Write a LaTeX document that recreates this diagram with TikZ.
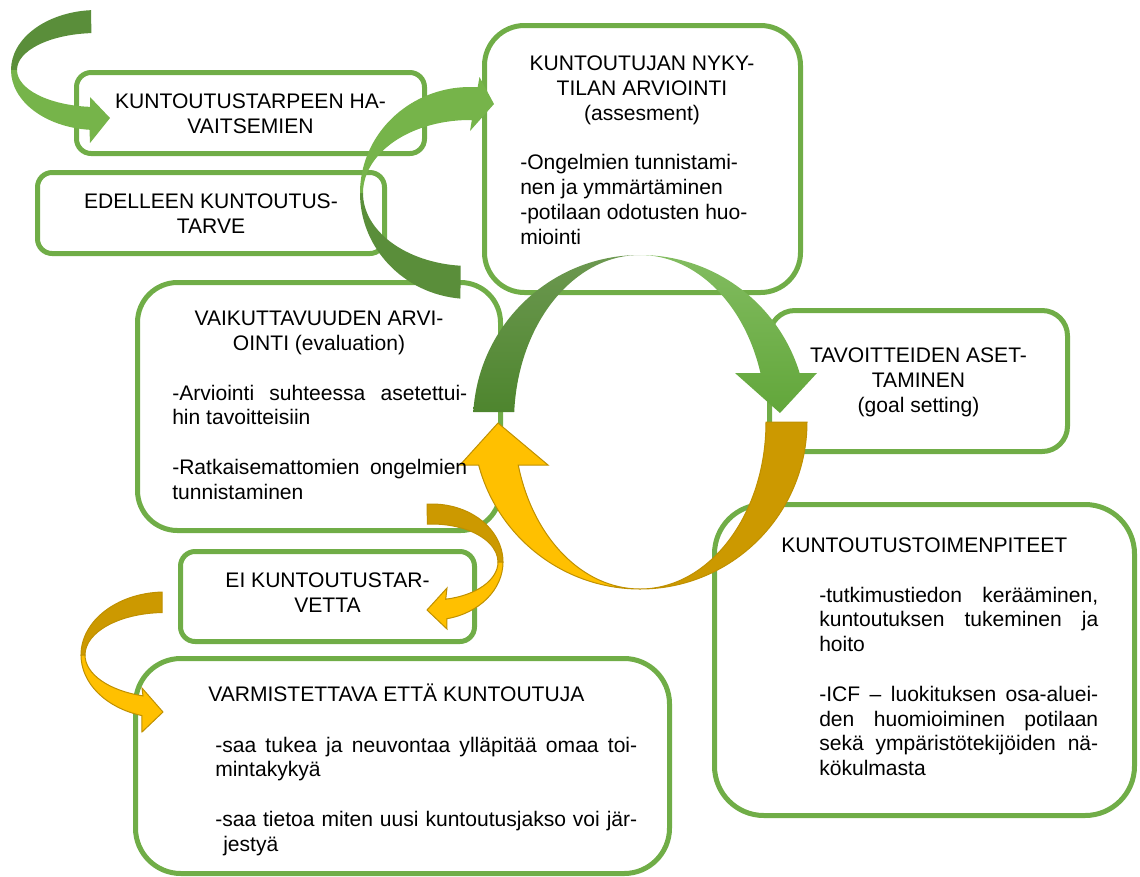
\documentclass[tikz,border=0pt]{standalone}
\usepackage{fontspec}
\setmainfont{Liberation Sans}
\definecolor{boxgreen}{RGB}{112,173,71}
\definecolor{grback}{RGB}{90,142,58}
\definecolor{grfront}{RGB}{118,180,74}
\definecolor{grbackhi}{RGB}{108,152,80}
\definecolor{grbacklo}{RGB}{76,132,44}
\definecolor{grfronthi}{RGB}{130,188,96}
\definecolor{grfrontlo}{RGB}{96,165,56}
\definecolor{ochre}{RGB}{204,153,0}
\definecolor{gold}{RGB}{255,192,0}
\definecolor{goldline}{RGB}{191,144,0}
\newcommand{\boxfont}{\fontsize{15.8pt}{18.6pt}\selectfont}
\tolerance=10000
\hyphenpenalty=10000
\exhyphenpenalty=10000
\tikzset{
  box/.style={draw=boxgreen, line width=3.75pt, rounded corners=#1, inner sep=0pt},
  boxdim/.style 2 args={minimum width=#1*0.75pt, minimum height=#2*0.75pt},
  ttl/.style={anchor=base, align=center, inner sep=0pt, font=\boxfont},
  txt/.style={anchor=base west, inner sep=0pt, font=\boxfont},
  para/.style={txt, align=justify, text width=#1},
  ringback/.style={top color=grbackhi, bottom color=grbacklo},
  ringfront/.style={top color=grfronthi, bottom color=grfrontlo},
  ribbonback/.style={fill=grback},
  ribbonfront/.style={fill=grfront},
  goldback/.style={fill=ochre, draw=goldline, line width=0.75pt},
  goldfront/.style={fill=gold, draw=goldline, line width=0.75pt},
}
\begin{document}
\begin{tikzpicture}[x=0.75pt, y=-0.75pt]
\useasboundingbox (0,0) rectangle (1140,876);

% boxes
\node[box=11pt, boxdim={348}{81}] (b1) at (250.5,113) {};
\node[box=11pt, boxdim={347}{81}] (b2) at (211,213) {};
\node[box=30pt, boxdim={316}{267}] (b3) at (642.5,159) {};
\node[box=30pt, boxdim={363}{248}] (b4) at (319,406.5) {};
\node[box=19pt, boxdim={298}{141}] (b5) at (918.5,381) {};
\node[box=37pt, boxdim={420}{311}] (b6) at (924.5,660) {};
\node[box=11pt, boxdim={294}{90}] (b7) at (327.5,596.5) {};
\node[box=34pt, boxdim={534}{215}] (b8) at (402.5,766) {};

% centres of the ribbons
\coordinate (ring) at (640,422);
\coordinate (cA) at (97,70);
\coordinate (cB) at (470,193);
\coordinate (cC) at (432,562);
\coordinate (cD) at (165,655);

% big cycle
\path[ringback] (ring) ++(183.43:167) arc[start angle=183.43, end angle=270, radius=167]
  arc[start angle=270, end angle=183.43, x radius=126, y radius=167] -- cycle;
\path[ringfront] (ring) ++(270:167) arc[start angle=270, end angle=342.94, radius=167]
  -- (817,373) -- (780,413) -- (735,373)
  -- ([shift={(342.94:126 and 167)}]ring) arc[start angle=342.94, end angle=270, x radius=126, y radius=167] -- cycle;
\draw[goldback] (ring) ++(0:167) arc[start angle=0, end angle=90, radius=167]
  arc[start angle=90, end angle=0, x radius=126, y radius=167] -- cycle;
\draw[goldfront] (ring) ++(90:167) arc[start angle=90, end angle=165.08, radius=167]
  -- (460,465) -- (498,423) -- (548,465)
  -- ([shift={(165.08:126 and 167)}]ring) arc[start angle=165.08, end angle=90, x radius=126, y radius=167] -- cycle;

% small ribbons
\fill[ribbonback] (cA) ++(266:86 and 60) arc[start angle=266, end angle=180, x radius=86, y radius=60]
  -- ([shift={(180:80 and 37)}]cA) arc[start angle=180, end angle=266, x radius=80, y radius=37] -- cycle;
\fill[ribbonfront] (cA) ++(180:86 and 60) arc[start angle=180, end angle=95, x radius=86, y radius=60]
  -- (90,143) -- (110,118) -- (90,97)
  -- ([shift={(95:80 and 37)}]cA) arc[start angle=95, end angle=180, x radius=80, y radius=37] -- cycle;

\fill[ribbonback] (cB) ++(95:110 and 106) arc[start angle=95, end angle=180, x radius=110, y radius=106]
  -- ([shift={(180:107 and 73)}]cB) arc[start angle=180, end angle=95, x radius=107, y radius=73] -- cycle;
\fill[ribbonfront] (cB) ++(180:110 and 106) arc[start angle=180, end angle=274, x radius=110, y radius=106]
  -- (479.5,77) -- (494,104) -- (470,131)
  -- ([shift={(271:107 and 73)}]cB) arc[start angle=271, end angle=180, x radius=107, y radius=73] -- cycle;

\draw[goldback] (cC) ++(266:71 and 58) arc[start angle=266, end angle=360, x radius=71, y radius=58]
  -- ([shift={(0:66 and 38)}]cC) arc[start angle=360, end angle=266, x radius=66, y radius=38] -- cycle;
\draw[goldfront] (cC) ++(0:71 and 58) arc[start angle=0, end angle=78, x radius=71, y radius=58]
  -- (447,629) -- (427,610) -- (447,588)
  -- ([shift={(78:66 and 38)}]cC) arc[start angle=78, end angle=0, x radius=66, y radius=38] -- cycle;

\draw[goldback] (cD) ++(268:84 and 63) arc[start angle=268, end angle=180, x radius=84, y radius=63]
  -- ([shift={(180:80 and 42.5)}]cD) arc[start angle=180, end angle=268, x radius=80, y radius=42.5] -- cycle;
\draw[goldfront] (cD) ++(180:84 and 63) arc[start angle=180, end angle=106, x radius=84, y radius=63]
  -- (142,732) -- (163,712) -- (142,688)
  -- ([shift={(106:80 and 42.5)}]cD) arc[start angle=106, end angle=180, x radius=80, y radius=42.5] -- cycle;

% texts (multi-line titles sit on their last baseline)
\node[ttl] (t1) at (250.5,133) {KUNTOUTUSTARPEEN HA-\\VAITSEMIEN};
\node[ttl] (t2) at (211,233) {EDELLEEN KUNTOUTUS-\\TARVE};
\node[ttl] (t3) at (642,120) {KUNTOUTUJAN NYKY-\\TILAN ARVIOINTI\\(assesment)};
\node[txt, align=left] (x3) at (520,244) {-Ongelmien tunnistami-\\nen ja ymmärtäminen\\-potilaan odotusten huo-\\miointi};
\node[ttl] (t4) at (319,350) {VAIKUTTAVUUDEN ARVI-\\OINTI (evaluation)};
\node[para=221.25pt] (x4) at (172,400) {-Arviointi suhteessa asetettui-\linebreak hin tavoitteisiin\\[18.6pt]
  -Ratkaisemattomien ongelmien\linebreak tunnistaminen};
\node[ttl] (t5) at (918.5,412) {TAVOITTEIDEN ASET-\\TAMINEN\\(goal setting)};
\node[txt] (t6) at (781,552) {KUNTOUTUSTOIMENPITEET};
\node[para=209.25pt] (x6) at (819,602) {-tutkimustiedon kerääminen,\linebreak kuntoutuksen tukeminen ja\linebreak hoito\\[18.6pt]
  -ICF – luokituksen osa-aluei-\linebreak den huomioiminen potilaan\linebreak sekä ympäristötekijöiden nä-\linebreak kökulmasta};
\node[ttl] (t7) at (327.5,612) {EI KUNTOUTUSTAR-\\VETTA};
\node[txt] (t8) at (208,701) {VARMISTETTAVA ETTÄ KUNTOUTUJA};
\node[para=316.5pt] (x8) at (215,752) {-saa tukea ja neuvontaa ylläpitää omaa toi-\linebreak mintakykyä\\[18.6pt]
  -saa tietoa miten uusi kuntoutusjakso voi jär-\linebreak\hspace*{6pt}jestyä};
\end{tikzpicture}
\end{document}
